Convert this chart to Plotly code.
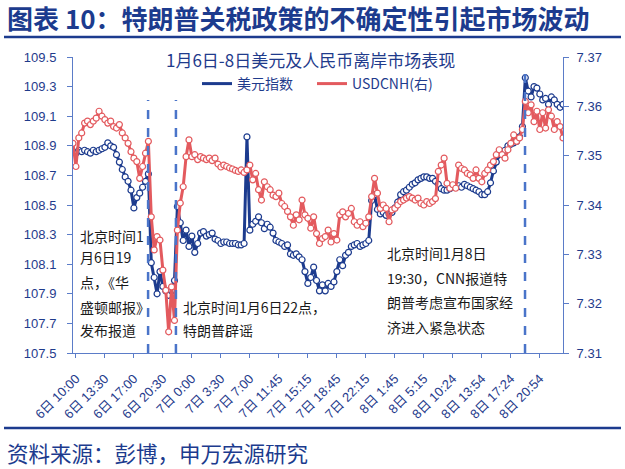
import plotly.graph_objects as go

# ---------------- data ----------------
x_ticklabels = ["6日 10:00", "6日 13:30", "6日 17:00", "6日 20:30", "7日 0:00", "7日 3:30",
                "7日 7:00", "7日 11:45", "7日 15:15", "7日 18:45", "7日 22:15", "8日 1:45",
                "8日 5:15", "8日 10:24", "8日 13:54", "8日 17:24", "8日 20:54"]
tick_pos = [1, 11, 21, 31, 41, 51, 61, 71, 81, 91, 101, 111, 121, 131, 141, 151, 161]

dxy = [108.86, 108.85, 108.87, 108.86, 108.87, 108.86, 108.85, 108.87, 108.86, 108.87,
       108.88, 108.89, 108.92, 108.90, 108.89, 108.84, 108.79, 108.74, 108.69, 108.66,
       108.60, 108.48, 108.55, 108.58, 108.62, 108.66, 108.71, 108.11, 108.01, 107.90,
       108.05, 107.95, 107.92, 107.89, 107.92, 107.99, 108.49, 108.38, 108.26, 108.33,
       108.22, 108.29, 108.18, 108.24, 108.31, 108.32, 108.29, 108.30, 108.31, 108.27,
       108.26, 108.24, 108.25, 108.25, 108.24, 108.24, 108.24, 108.23, 108.23, 108.24,
       108.96, 108.33, 108.37, 108.39, 108.42, 108.38, 108.34, 108.37, 108.35, 108.31,
       108.26, 108.25, 108.24, 108.22, 108.23, 108.17, 108.16, 108.17, 108.15, 108.13,
       108.05, 107.97, 108.01, 108.08, 107.99, 107.92, 107.96, 107.92, 107.97, 107.95,
       107.98, 108.05, 108.13, 108.09, 108.16, 108.18, 108.22, 108.23, 108.24, 108.22,
       108.23, 108.24, 108.26, 108.53, 108.57, 108.47, 108.44, 108.45, 108.43, 108.44,
       108.45, 108.48, 108.52, 108.57, 108.59, 108.60, 108.62, 108.64, 108.65, 108.67,
       108.68, 108.69, 108.69, 108.68, 108.68, 108.66, 108.64, 108.61, 108.60, 108.60,
       108.61, 108.62, 108.62, 108.63, 108.62, 108.64, 108.63, 108.62, 108.61, 108.60,
       108.59, 108.57, 108.57, 108.59, 108.65, 108.73, 108.79, 108.84, 108.86, 108.87,
       108.90, 108.91, 108.92, 108.93, 108.96, 109.03, 109.36, 109.27, 109.23, 109.30,
       109.29, 109.25, 109.21, 109.22, 109.18, 109.23, 109.21, 109.18, 109.16, 109.18]

usdcnh = [7.3525, 7.3478, 7.3536, 7.3546, 7.3566, 7.3570, 7.3563, 7.3570, 7.3576, 7.3590,
          7.3580, 7.3573, 7.3566, 7.3570, 7.3559, 7.3556, 7.3563, 7.3546, 7.3536, 7.3525,
          7.3508, 7.3495, 7.3488, 7.3454, 7.3478, 7.3505, 7.3529, 7.3376, 7.3309, 7.3336,
          7.3329, 7.3268, 7.3227, 7.3143, 7.3234, 7.3166, 7.3349, 7.3404, 7.3437, 7.3498,
          7.3532, 7.3498, 7.3502, 7.3492, 7.3498, 7.3495, 7.3492, 7.3495, 7.3490, 7.3495,
          7.3483, 7.3477, 7.3481, 7.3478, 7.3475, 7.3473, 7.3470, 7.3468, 7.3471, 7.3466,
          7.3471, 7.3481, 7.3451, 7.3464, 7.3431, 7.3410, 7.3447, 7.3437, 7.3431, 7.3420,
          7.3417, 7.3424, 7.3403, 7.3397, 7.3387, 7.3376, 7.3359, 7.3380, 7.3370, 7.3410,
          7.3380, 7.3373, 7.3353, 7.3376, 7.3342, 7.3322, 7.3332, 7.3336, 7.3349, 7.3325,
          7.3342, 7.3329, 7.3380, 7.3386, 7.3376, 7.3383, 7.3393, 7.3366, 7.3359, 7.3366,
          7.3356, 7.3363, 7.3376, 7.3417, 7.3454, 7.3424, 7.3393, 7.3400, 7.3393, 7.3366,
          7.3390, 7.3393, 7.3400, 7.3407, 7.3410, 7.3414, 7.3417, 7.3414, 7.3410, 7.3414,
          7.3403, 7.3400, 7.3407, 7.3403, 7.3407, 7.3413, 7.3468, 7.3481, 7.3495, 7.3444,
          7.3434, 7.3441, 7.3434, 7.3481, 7.3474, 7.3471, 7.3464, 7.3461, 7.3454, 7.3471,
          7.3454, 7.3447, 7.3464, 7.3471, 7.3481, 7.3488, 7.3502, 7.3512, 7.3502, 7.3495,
          7.3512, 7.3525, 7.3542, 7.3529, 7.3536, 7.3553, 7.3610, 7.3587, 7.3603, 7.3569,
          7.3590, 7.3553, 7.3587, 7.3556, 7.3593, 7.3580, 7.3553, 7.3569, 7.3559, 7.3536]

event_pos = [25.9, 35.5, 155.9]
event_top = [109.21, 109.21, 109.42]

# ---------------- style ----------------
NAVY = "#1c3b8e"
RED = "#e35a5e"
AXC = "#5b7cc8"
TXT = "#1f3b8c"
DASH = "#4a74c9"
CJK = "Noto Sans CJK SC"
NUM = "Liberation Sans, Noto Sans CJK SC"

W, H = 625, 469
L, R, T, B = 73, 563, 57, 353


def px(xp):
    return (xp - L) / (R - L)


def py(yp):
    return (B - yp) / (B - T)


x = list(range(len(dxy)))

fig = go.Figure()
fig.add_trace(go.Scatter(x=x, y=dxy, mode="lines", name="美元指数", legend="legend",
                         line=dict(color=NAVY, width=3), hoverinfo="skip"))
fig.add_trace(go.Scatter(x=x, y=dxy, mode="markers", showlegend=False,
                         marker=dict(symbol="circle", size=6, color="white",
                                     line=dict(color=NAVY, width=1.2)), hoverinfo="skip"))
fig.add_trace(go.Scatter(x=x, y=usdcnh, mode="lines", name="USDCNH(右)", yaxis="y2",
                         legend="legend2",
                         line=dict(color=RED, width=3), hoverinfo="skip"))
fig.add_trace(go.Scatter(x=x, y=usdcnh, mode="markers", showlegend=False, yaxis="y2",
                         marker=dict(symbol="circle", size=6, color="white",
                                     line=dict(color=RED, width=1.2)), hoverinfo="skip"))

shapes = []
for ex, et in zip(event_pos, event_top):
    shapes.append(dict(type="line", xref="x", yref="y", x0=ex, x1=ex, y0=107.5, y1=et,
                       line=dict(color=DASH, width=2.5, dash="dash")))
# title underline & bottom rule
shapes.append(dict(type="line", xref="paper", yref="paper", x0=px(4), x1=px(621),
                   y0=py(37), y1=py(37), line=dict(color=NAVY, width=2.5)))
shapes.append(dict(type="line", xref="paper", yref="paper", x0=px(4), x1=px(621),
                   y0=py(428), y1=py(428), line=dict(color=NAVY, width=2.5)))

annotations = [
    dict(text="<b>图表 10：特朗普关税政策的不确定性引起市场波动</b>", x=px(5), y=py(18),
         font=dict(family=CJK, size=26, color=NAVY)),
    dict(text="资料来源：彭博，申万宏源研究", x=px(5), y=py(453),
         font=dict(family=CJK, size=21.5, color=NAVY)),
    dict(text="1月6日-8日美元及人民币离岸市场表现", x=px(310), y=py(60), xanchor="center",
         font=dict(family=CJK, size=17, color=TXT)),
]
note_lines = [
    (78, 236, "北京时间1"), (78, 257, "月6日19"), (78, 282, "点，《华"),
    (78, 307, "盛顿邮报》"), (78, 330, "发布报道"),
    (181, 307, "北京时间1月6日22点，"), (181, 330, "特朗普辟谣"),
    (385, 253, "北京时间1月8日"), (385, 278, "19:30，CNN报道特"),
    (385, 302, "朗普考虑宣布国家经"), (385, 327, "济进入紧急状态"),
]
for xx, yy, tt in note_lines:
    annotations.append(dict(text=tt, x=px(xx), y=py(yy),
                            font=dict(family=CJK, size=14, color="#1a1a1a")))
for a in annotations:
    a.setdefault("xanchor", "left")
    a.update(xref="paper", yref="paper", yanchor="middle", showarrow=False)

leg_common = dict(orientation="h", yanchor="middle", xanchor="left",
                  font=dict(family=CJK, size=14, color=TXT), bgcolor="rgba(0,0,0,0)",
                  itemwidth=30)

fig.update_layout(
    width=W, height=H,
    margin=dict(l=L, r=W - R, t=T, b=H - B, pad=0),
    paper_bgcolor="white", plot_bgcolor="white",
    font=dict(family=NUM, color=TXT),
    showlegend=True,
    legend=dict(x=px(197), y=py(84), **leg_common),
    legend2=dict(x=px(312), y=py(84), **leg_common),
    xaxis=dict(range=[0, len(dxy) - 1], tickmode="array", tickvals=tick_pos,
               ticktext=x_ticklabels, tickangle=-45, showgrid=False, zeroline=False,
               showline=True, linecolor=AXC, linewidth=1, ticks="outside", ticklen=4,
               tickcolor=AXC, ticklabelstandoff=8,
               tickfont=dict(family=NUM, size=13, color=TXT)),
    yaxis=dict(range=[107.5, 109.5], dtick=0.2, tick0=107.5, tickformat=".1f",
               showgrid=False, zeroline=False, showline=True, linecolor=AXC, linewidth=1,
               ticks="outside", ticklen=5, tickcolor=AXC, ticklabelstandoff=8,
               tickfont=dict(family=NUM, size=13, color=TXT)),
    yaxis2=dict(range=[7.31, 7.37], dtick=0.01, tick0=7.31, tickformat=".2f",
                overlaying="y", side="right", showgrid=False, zeroline=False,
                showline=True, linecolor=AXC, linewidth=1, ticks="outside", ticklen=5,
                tickcolor=AXC, ticklabelstandoff=5,
                tickfont=dict(family=NUM, size=13, color=TXT)),
    shapes=shapes,
    annotations=annotations,
)

fig.write_html("out.html")
